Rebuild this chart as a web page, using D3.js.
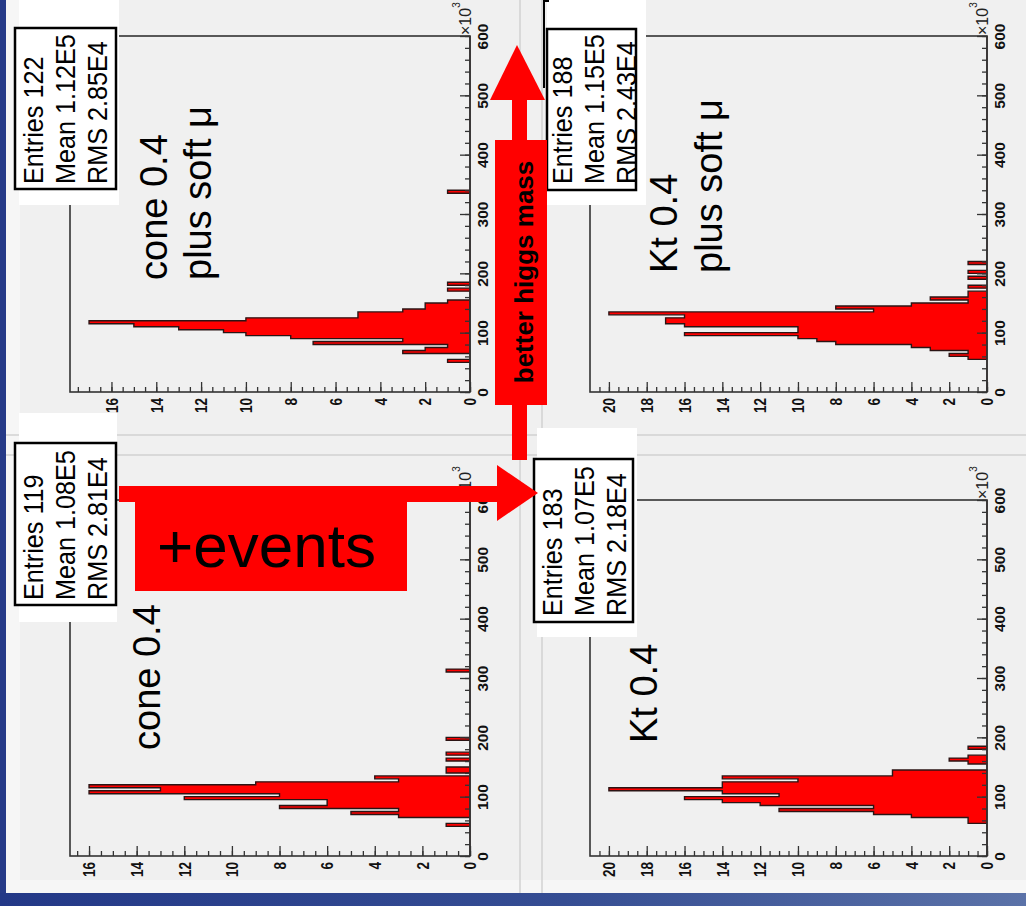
<!DOCTYPE html>
<html>
<head>
<meta charset="utf-8">
<script src="https://cdn.jsdelivr.net/npm/d3@7"></script>
<style>
  body { margin: 0; background: #f0f0f0; }
  svg { display: block; font-family: "Liberation Sans", Arial, sans-serif; }
</style>
</head>
<body>
<div id="chart"></div>
<script>
const width = 1026;
const height = 906;

// bins are 5 (x10^3) wide; edges = lower edge of each non-empty bin
const coneMuEdges  = [50, 65, 70, 75, 80, 85, 90, 95, 100, 105, 110, 115, 120, 125, 130, 135, 140, 145, 150, 170, 180, 335];
const coneMuCounts = [ 1,  3,  2,  1,  7,  3,  8, 10,  11,  13,  15,  17,  10,   5,   5,   3,   2,   2,   1,   1,   1,   1];

const ktMuEdges  = [55, 60, 65, 70, 75, 80, 85, 90, 95, 100, 105, 110, 115, 120, 125, 130, 135, 140, 145, 150, 155, 160, 165, 175, 190, 200, 215];
const ktMuCounts = [ 1,  2,  1,  3,  4,  8,  9, 10, 16,  10,  10,  16,  17,  17,  16,  20,   6,   8,   4,   1,   3,   1,   1,   1,   1,   1,   1];

const coneEdges  = [50, 65, 70, 75, 80, 85, 90, 95, 100, 105, 110, 115, 120, 125, 130, 140, 145, 160, 170, 195, 310];
const coneCounts = [ 1,  3,  5,  3,  8,  6,  6, 12,   8,  16,  13,  16,   9,   3,   4,   1,   1,   1,   1,   1,   1];

const ktEdges  = [55, 60, 65, 70, 75, 80, 85, 90, 95, 100, 105, 110, 115, 120, 125, 130, 135, 140, 155, 160, 165, 180];
const ktCounts = [ 1,  1,  4,  6, 11,  6, 12, 14, 16,  11,  14,  20,  14,  14,  10,  14,   5,   5,   1,   2,   1,   1];

const coneMuStats = ["Entries 122", "Mean 1.12E5", "RMS 2.85E4"];
const ktMuStats   = ["Entries 188", "Mean 1.15E5", "RMS 2.43E4"];
const coneStats   = ["Entries 119", "Mean 1.08E5", "RMS 2.81E4"];
const ktStats     = ["Entries 183", "Mean 1.07E5", "RMS 2.18E4"];

const coneMuLabel = ["cone 0.4", "plus soft \u03bc"];
const ktMuLabel   = ["Kt 0.4", "plus soft \u03bc"];
const coneLabel   = ["cone 0.4"];
const ktLabel     = ["Kt 0.4"];

const massTicks = [0, 100, 200, 300, 400, 500, 600];
const coneMuCountTicks = [0, 2, 4, 6, 8, 10, 12, 14, 16];
const coneCountTicks = [0, 2, 4, 6, 8, 10, 12, 14, 16];
const ktCountTicks = [0, 2, 4, 6, 8, 10, 12, 14, 16, 18, 20];

const binWidth = 5;
const massMax = 600;

const panels = [
  { edges: coneMuEdges, counts: coneMuCounts, stats: coneMuStats, label: coneMuLabel, ticks: coneMuCountTicks,
    frame: { left: 70, right: 470, top: 36, bottom: 392 },
    white: [19, 0, 100, 205], box: [15, 28, 101, 161], statX: 43, statY: 184, labelX: [167, 211], labelY: 280 },
  { edges: ktMuEdges, counts: ktMuCounts, stats: ktMuStats, label: ktMuLabel, ticks: ktCountTicks,
    frame: { left: 590, right: 987, top: 36, bottom: 392 },
    white: [547, 0, 99, 205], box: [547, 29, 89, 161], statX: 572, statY: 184, labelX: [677, 722], labelY: 273 },
  { edges: coneEdges, counts: coneCounts, stats: coneStats, label: coneLabel, ticks: coneCountTicks,
    frame: { left: 70, right: 470, top: 500, bottom: 856 },
    white: [19, 413, 98, 209], box: [15, 443, 101, 162], statX: 43, statY: 600, labelX: [160], labelY: 750 },
  { edges: ktEdges, counts: ktCounts, stats: ktStats, label: ktLabel, ticks: ktCountTicks,
    frame: { left: 590, right: 987, top: 500, bottom: 856 },
    white: [537, 428, 100, 209], box: [534, 459, 99, 163], statX: 562, statY: 616, labelX: [657], labelY: 743 }
];

const svg = d3.select('#chart').append('svg')
  .attr('width', width).attr('height', height)
  .attr('viewBox', `0 0 ${width} ${height}`);

const defs = svg.append('defs');
const grad = defs.append('linearGradient').attr('id', 'strip');
grad.append('stop').attr('offset', '0%').attr('stop-color', '#233887');
grad.append('stop').attr('offset', '55%').attr('stop-color', '#354d93');
grad.append('stop').attr('offset', '100%').attr('stop-color', '#5b72a8');

// canvas + pad borders
svg.append('rect').attr('width', width).attr('height', height).attr('fill', '#f0f0f0');
svg.append('rect').attr('x', 6).attr('y', 0).attr('width', 14).attr('height', 893).attr('fill', '#f6f6f6');
svg.append('rect').attr('x', 6).attr('y', 880).attr('width', width).attr('height', 13).attr('fill', '#f6f6f6');
const padLines = svg.append('g').attr('stroke', '#d2d2d2').attr('stroke-width', 1.5);
padLines.append('line').attr('x1', 520).attr('x2', 520).attr('y1', 0).attr('y2', 893);
padLines.append('line').attr('x1', 542).attr('x2', 542).attr('y1', 0).attr('y2', 893);
padLines.append('line').attr('x1', 6).attr('x2', width).attr('y1', 435).attr('y2', 435);
padLines.append('line').attr('x1', 6).attr('x2', width).attr('y1', 455).attr('y2', 455);

svg.append('rect').attr('x', 0).attr('y', 0).attr('width', 6).attr('height', height).attr('fill', '#263a88');
svg.append('rect').attr('x', 0).attr('y', 893).attr('width', width).attr('height', 13).attr('fill', 'url(#strip)');

function styleTicks(sel) {
  sel.selectAll('line').attr('stroke', '#333').attr('stroke-width', 1.3);
}

function drawPanel(p) {
  const f = p.frame;
  const g = svg.append('g');
  const ymax = d3.max(p.counts) * 1.05;

  const cx = d3.scaleLinear().domain([0, ymax]).range([f.right, f.left]);
  const my = d3.scaleLinear().domain([0, massMax]).range([f.bottom, f.top]);

  // every bin, zeros for the empty ones, so the shape is one step polygon
  const bins = d3.range(0, massMax, binWidth).map(m => {
    const i = p.edges.indexOf(m);
    return { m, n: i < 0 ? 0 : p.counts[i] };
  });

  const pts = [[cx(0), my(0)]];
  bins.forEach(d => {
    pts.push([cx(d.n), my(d.m)]);
    pts.push([cx(d.n), my(d.m + binWidth)]);
  });
  pts.push([cx(0), my(massMax)]);
  g.append('path')
    .attr('d', d3.line()(pts) + 'Z')
    .attr('fill', '#ff0000')
    .attr('stroke', '#2b1414')
    .attr('stroke-width', 1.4)
    .attr('stroke-linejoin', 'miter');

  // frame
  g.append('rect')
    .attr('x', f.left).attr('y', f.top)
    .attr('width', f.right - f.left).attr('height', f.bottom - f.top)
    .attr('fill', 'none').attr('stroke', '#333').attr('stroke-width', 1.6);

  // count axis along the bottom edge, ticks pointing inwards
  g.append('g').attr('transform', `translate(0,${f.bottom})`)
    .call(d3.axisBottom(cx).tickValues(d3.range(0, ymax, 0.5)).tickSize(-5).tickFormat(''))
    .call(s => s.select('.domain').remove())
    .call(styleTicks);

  const cAxis = g.append('g').attr('transform', `translate(0,${f.bottom})`)
    .call(d3.axisBottom(cx).tickValues(p.ticks).tickSize(-10))
    .call(s => s.select('.domain').remove())
    .call(styleTicks);
  cAxis.selectAll('text')
    .attr('transform', 'rotate(-90) scale(0.85,1)')
    .attr('x', -7).attr('y', 0).attr('dy', '0.36em')
    .attr('text-anchor', 'end')
    .attr('font-size', 16).attr('font-weight', 'bold')
    .attr('font-family', '"Liberation Sans", Arial, sans-serif')
    .attr('fill', '#111');

  // mass axis along the right edge
  g.append('g').attr('transform', `translate(${f.right},0)`)
    .call(d3.axisRight(my).tickValues(d3.range(0, massMax + 1, 20)).tickSize(-5).tickFormat(''))
    .call(s => s.select('.domain').remove())
    .call(styleTicks);

  const mAxis = g.append('g').attr('transform', `translate(${f.right},0)`)
    .call(d3.axisRight(my).tickValues(massTicks).tickSize(-10))
    .call(s => s.select('.domain').remove())
    .call(styleTicks);
  mAxis.selectAll('text')
    .attr('transform', 'rotate(-90)')
    .attr('x', 0).attr('y', 18).attr('dy', 0)
    .attr('text-anchor', 'middle')
    .attr('font-size', 15.5).attr('font-weight', 'bold')
    .attr('font-family', '"Liberation Sans", Arial, sans-serif')
    .attr('fill', '#111');

  const exp = g.append('text')
    .attr('transform', `translate(${f.right + 1},${f.top - 1}) rotate(-90)`)
    .attr('font-size', 16).attr('fill', '#222');
  exp.append('tspan').text('\u00d710');
  exp.append('tspan').attr('font-size', 10).attr('dy', '-1.1em').text('3');

  // white patch + stat box
  g.append('rect')
    .attr('x', p.white[0]).attr('y', p.white[1])
    .attr('width', p.white[2]).attr('height', p.white[3])
    .attr('fill', '#ffffff');
  g.append('rect')
    .attr('x', p.box[0]).attr('y', p.box[1])
    .attr('width', p.box[2]).attr('height', p.box[3])
    .attr('fill', '#ffffff').attr('stroke', '#000').attr('stroke-width', 2.5);
  g.append('g').selectAll('text')
    .data(p.stats)
    .join('text')
    .attr('transform', (d, i) => `translate(${p.statX + i * 32},${p.statY}) rotate(-90) scale(0.9,1)`)
    .attr('font-size', 28)
    .attr('fill', '#000')
    .text(d => d);

  g.append('g').selectAll('text')
    .data(p.label)
    .join('text')
    .attr('transform', (d, i) => `translate(${p.labelX[i]},${p.labelY}) rotate(-90)`)
    .attr('font-size', 38)
    .attr('fill', '#000')
    .text(d => d);
}

panels.forEach(drawPanel);

// stray box edge behind the upper right stat box
svg.append('path').attr('d', 'M544,0 V88 M544,1 H549')
  .attr('stroke', '#000').attr('stroke-width', 2).attr('fill', 'none');

// annotation arrows
const ann = svg.append('g').attr('fill', '#ff0000');

// "better higgs mass" arrow (points up)
ann.append('rect').attr('x', 512).attr('y', 100).attr('width', 15).attr('height', 360);
ann.append('path').attr('d', 'M490,100 L545,100 L517,45 Z');
ann.append('rect').attr('x', 495).attr('y', 140).attr('width', 52).attr('height', 265);
svg.append('text')
  .attr('transform', 'translate(533,272) rotate(-90)')
  .attr('text-anchor', 'middle')
  .attr('font-size', 26).attr('font-weight', 'bold')
  .attr('fill', '#000')
  .text('better higgs mass');

// "+events" arrow (points right)
ann.append('rect').attr('x', 119).attr('y', 486).attr('width', 378).attr('height', 16);
ann.append('path').attr('d', 'M497,465 L497,521 L538,493 Z');
ann.append('rect').attr('x', 135).attr('y', 502).attr('width', 272).attr('height', 89);
svg.append('text')
  .attr('x', 157).attr('y', 567)
  .attr('font-size', 62)
  .attr('fill', '#000')
  .text('+events');
</script>
</body>
</html>
